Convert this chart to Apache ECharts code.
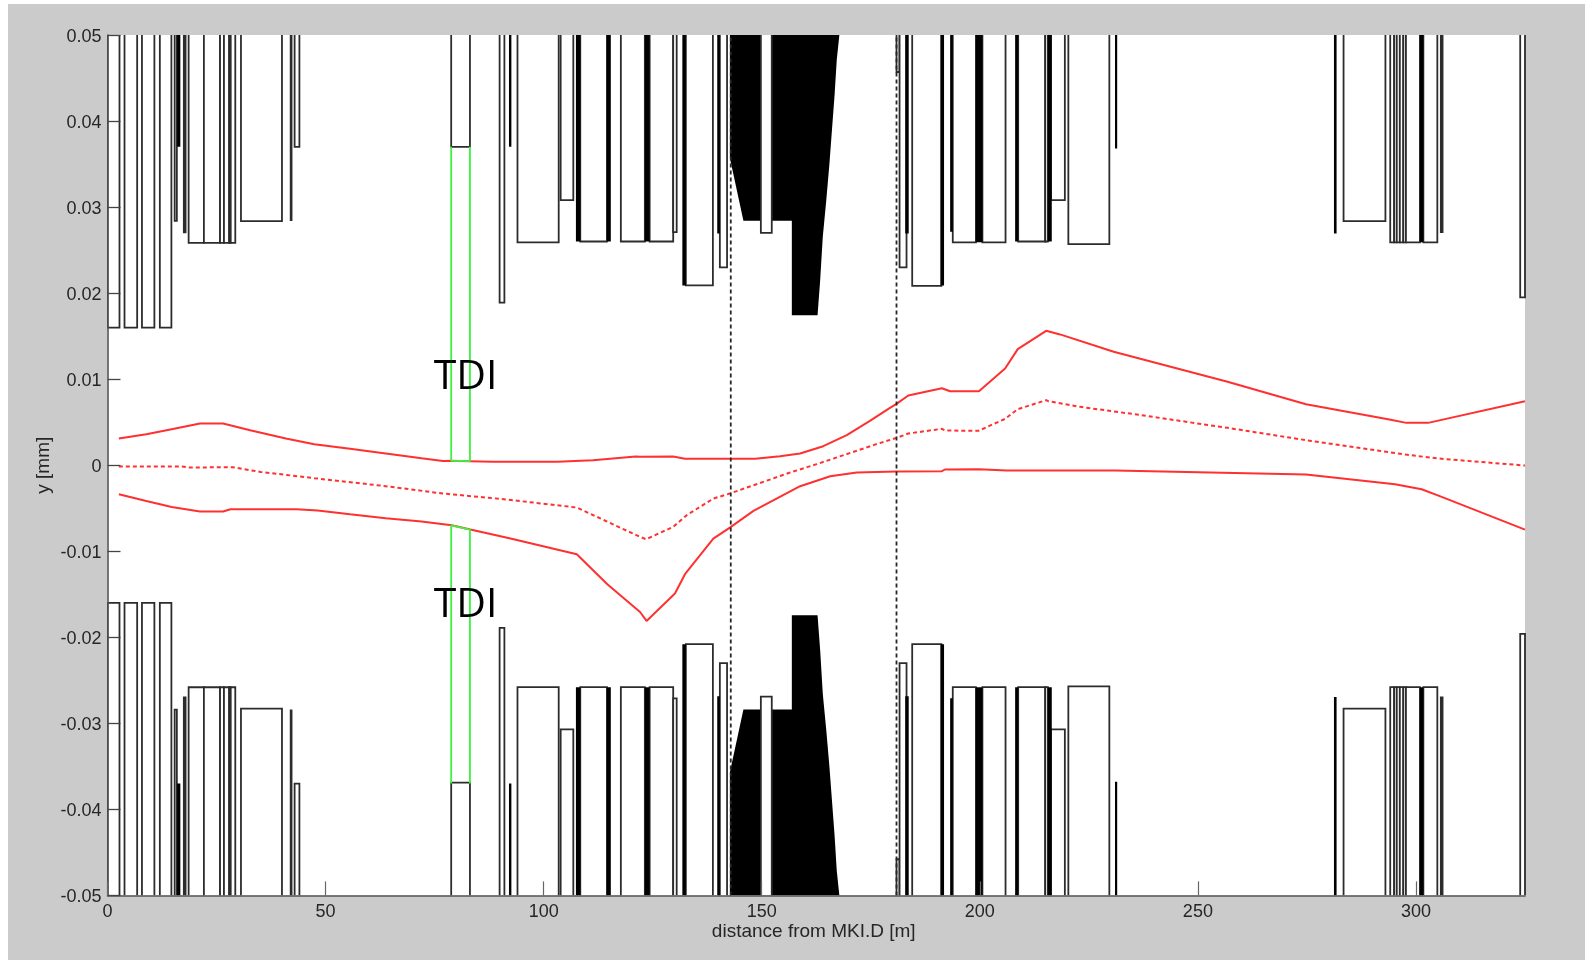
<!DOCTYPE html>
<html><head><meta charset="utf-8">
<style>
html,body{margin:0;padding:0;background:#fff;width:1585px;height:960px;overflow:hidden}
#bg{position:absolute;left:8px;top:4px;right:0;bottom:0;background:#cbcbcb}
#main{position:absolute;left:0;top:0;width:1585px;height:960px}
</style>
<script src="https://cdn.jsdelivr.net/npm/echarts@6/dist/echarts.min.js"></script>
</head><body><div id="bg"></div><div id="main"></div>
<script>
// [start m, end m, upper aperture, lower aperture]
const openElements = [
 [0,2.75,.016,-.016],[3.9,6.8,.016,-.016],[7.9,10.75,.016,-.016],[12,14.65,.016,-.016],
 [15.4,15.9,.0284,-.0284],[17.5,17.9,.02706,-.027],
 [18.6,22.1,.02585,-.02581],[22.1,25.8,.02585,-.02581],[25.8,26.7,.02585,-.02581],[26.7,27.9,.02585,-.02581],[27.9,28.25,.02585,-.02581],[28.25,29.3,.02585,-.02581],
 [30.6,40,.02837,-.0283],[42,42.2,.0285,-.0285],[42.9,44,.037,-.037],
 [78.8,83.1,.037,-.0369],[89.9,91,.0189,-.0189],
 [94,103.45,.0259,-.0258],[103.9,106.8,.0308,-.0307],[108.4,114.5,.026,-.0258],
 [117.7,123.2,.026,-.0258],[124.3,129.7,.026,-.0258],[129.7,130.5,.0271,-.0271],
 [132.6,138.8,.0209,-.0208],[140.4,142.05,.023,-.023],[149.8,152.3,.027,-.0269],
 [180.9,181.6,.0457,-.0458],[181.6,183.2,.023,-.023],[184.5,191.2,.02085,-.0208],
 [193.8,199.1,.0259,-.0258],[200.6,205.9,.0259,-.0258],[208.8,215,.026,-.0258],[215,215.6,.026,-.0258],
 [216.3,219.5,.0308,-.0307],[220.3,229.7,.0257,-.0257],
 [283.4,293,.02837,-.0283],
 [294.1,295,.0259,-.0258],[295,295.6,.0259,-.0258],[295.6,296.3,.0259,-.0258],[296.3,297.1,.0259,-.0258],[297.1,297.7,.0259,-.0258],[297.7,300.9,.0259,-.0258],[301.7,304.9,.0259,-.0258],
 [305.7,306.1,.0271,-.027],[323.9,325,.0195,-.0196]
];
const solidElements = [
 [15.95,16.7,.037,-.037],[92.05,92.6,.037,-.037],[107.4,108.4,.026,-.0258],[114.5,115.4,.026,-.0258],
 [123.2,124.3,.026,-.0258],[131.8,132.6,.0209,-.0208],[139.8,140.4,.02694,-.02686],
 [182.9,183.7,.02694,-.02686],[191,191.8,.0209,-.0208],[193.2,193.8,.02713,-.0271],
 [199.1,200.6,.0259,-.0258],[208.1,208.8,.026,-.0258],[215.6,216.5,.026,-.0258],
 [231,231.5,.0368,-.0368],[281.2,281.8,.02694,-.02694],[300.9,301.7,.0259,-.0258]
];
// outline of the dense black region (upper side; the lower side mirrors it)
const denseProfile = [
 [142.7,.05],[142.7,.0357],[145.8,.0284],[156.9,.0284],[156.9,.01744],[162.8,.01744],
 [163.4,.0215],[164,.02655],[164.8,.0308],[165.5,.0349],[166.1,.03895],[166.7,.043],[167.2,.0471],[167.8,.05]
];
const beamUpper = [
 [2.6,.0031],[8.9,.0036],[14.7,.00419],[21.2,.00485],[26.5,.00485],[32.7,.00407],[40.9,.0031],[47.4,.00244],
 [55.6,.0019],[63.8,.00136],[72,.00081],[76.9,.0005],[78.9,.00052],[83,.00047],[88.4,.00039],[103.1,.00039],
 [111.3,.00058],[121.1,.00101],[122.1,.00097],[129.7,.001],[132.4,.00074],[148.5,.00074],[154.2,.00105],
 [158.8,.00136],[164.1,.00221],[169.5,.00349],[174.8,.00516],[179.4,.00667],[180.9,.00713],[183.6,.0081],
 [191.3,.00895],[193.2,.0086],[199.8,.0086],[205.8,.01124],[208.7,.01349],[215.2,.01562],[218.4,.0152],
 [230.7,.01318],[256.8,.00969],[274.8,.00709],[293.6,.00535],[297.8,.00492],[302.8,.00492],[325,.00744]
];
const beamCentre = [
 [2.6,-.00016],[17.1,-.00016],[18.8,-.00027],[28.6,-.00023],[35.1,-.00078],[47.4,-.00151],[63.8,-.00244],
 [76.9,-.00329],[90.8,-.00395],[107.6,-.00492],[122.1,-.00833],[123.5,-.0086],[129.7,-.00717],[132.8,-.00581],
 [138.9,-.00388],[142.7,-.00329],[156.5,-.00085],[162.6,.00012],[175.6,.00233],[180.9,.00318],[183.6,.00368],
 [191.3,.00423],[192,.00403],[199.7,.004],[205.8,.00539],[208.7,.00651],[215.2,.00756],[215.7,.00744],
 [223,.00678],[236,.00589],[256.8,.00434],[274.8,.00291],[297.6,.00124],[305.1,.00078],[325,-.00004]
];
const beamLower = [
 [2.6,-.00337],[8.9,-.00415],[14.7,-.00485],[21.2,-.00539],[26.5,-.00539],[28.2,-.00512],[43.3,-.00512],[48.2,-.00527],
 [55.6,-.0057],[63.8,-.00616],[72,-.00655],[78.9,-.00698],[83.2,-.00748],[92.4,-.00853],[107.6,-.01035],[114.6,-.01384],
 [122.1,-.01706],[123.6,-.0181],[130.1,-.01492],[132.4,-.01267],[138.9,-.00853],[142.7,-.00725],[148.1,-.00531],
 [158.8,-.00244],[165.7,-.00128],[171.8,-.00085],[180.9,-.00074],[191.3,-.0007],[192,-.0005],[199.7,-.00047],
 [206.2,-.00062],[231,-.00062],[274.8,-.00108],[295.2,-.00221],[301.3,-.00279],[305.9,-.00368],[325,-.00748]
];
const tdiUpperFrame = [[78.8,.037],[78.8,.00052],[83.1,.00047],[83.1,.037]];
const tdiLowerFrame = [[78.8,-.037],[78.8,-.00698],[83.1,-.00748],[83.1,-.037]];
const kickerMarks = [142.9,180.9];
const annotations = [[82.1,.0102,'TDI'],[82.1,-.01625,'TDI']];
const xTicks = [0,50,100,150,200,250,300];

const INK='#2c2c2c', FONT='"Liberation Sans",Arial,sans-serif', TXT='#262626';
const chart = echarts.init(document.getElementById('main'), null, {renderer:'canvas'});

function elementSeries(rows, solid, z){
  return {type:'custom', coordinateSystem:'cartesian2d', silent:true, clip:true, z, animation:false,
    encode:{x:[0,1],y:[2,3]}, data:rows,
    renderItem(p,api){
      const a=api.value(0),b=api.value(1),t=api.value(2),u=api.value(3);
      const c=(x,y)=>api.coord([x,y]);
      const up=[c(a,.05),c(a,t),c(b,t),c(b,.05)], lo=[c(a,-.05),c(a,u),c(b,u),c(b,-.05)];
      const part=pts=>solid
        ? [{type:'polygon',shape:{points:pts},style:{fill:'#000'}}]
        : [{type:'polygon',shape:{points:pts},style:{fill:'#fff'}},
           {type:'polyline',shape:{points:pts},style:{fill:null,stroke:INK,lineWidth:1.8}}];
      return {type:'group',children:part(up).concat(part(lo))};
    }};
}
function line(data,color,width,dash,z){
  return {type:'line',data,showSymbol:false,symbol:'none',silent:true,animation:false,z,clip:true,
    lineStyle:{color,width,type:dash||'solid'}};
}
const series=[
 {type:'custom',coordinateSystem:'cartesian2d',silent:true,clip:true,z:2,animation:false,
  encode:{x:0,y:1},data:denseProfile,
  renderItem(p,api){
    if(p.dataIndex!==0) return null;
    const top=denseProfile.map(d=>api.coord(d)), bot=denseProfile.map(d=>api.coord([d[0],-d[1]]));
    return {type:'group',children:[top,bot].map(points=>({type:'polygon',shape:{points},style:{fill:'#000'}}))};
  }},
 elementSeries(openElements,false,3),
 elementSeries(solidElements,true,4),
 line(beamUpper,'#ff3030',2,null,5),
 line(beamCentre,'#ff3030',2,[4,3],5),
 line(beamLower,'#ff3030',2,null,5),
 line(tdiUpperFrame,'#3cf23c',1.8,null,6),
 line(tdiLowerFrame,'#3cf23c',1.8,null,6),
 ...kickerMarks.map(x=>line([[x,-.05],[x,.05]],'#262626',1.8,[4,3],7)),
 {type:'custom',coordinateSystem:'cartesian2d',silent:true,clip:false,z:8,animation:false,
  encode:{x:0,y:1},data:annotations.map(a=>[a[0],a[1]]),
  renderItem(p,api){
    const pt=api.coord([api.value(0),api.value(1)]);
    return {type:'text',x:pt[0],y:pt[1],style:{text:annotations[p.dataIndex][2],fill:'#000',
      font:'41px "Open Sans",sans-serif',textAlign:'center',textVerticalAlign:'middle'}};
  }}
];
chart.setOption({
  backgroundColor:'transparent', animation:false,
  grid:{left:107.5,top:35,width:1417.5,height:860.4,show:true,backgroundColor:'#fff',borderWidth:0,containLabel:false},
  xAxis:{type:'value',z:10,min:0,max:325,name:'distance from MKI.D [m]',nameLocation:'middle',nameGap:27,nameMoveOverlap:false,
    nameTextStyle:{fontFamily:FONT,fontSize:19,color:TXT,padding:[0,5,0,0]},
    splitLine:{show:false},
    axisLine:{show:true,onZero:false,lineStyle:{color:'#555',width:1.6}},
    axisTick:{show:true,inside:true,length:14,lineStyle:{color:'#666',width:1.2},customValues:xTicks},
    axisLabel:{fontFamily:FONT,fontSize:18,color:TXT,margin:8,customValues:xTicks}},
  yAxis:{type:'value',z:10,min:-.05,max:.05,interval:.01,name:'y [mm]',nameLocation:'middle',nameGap:54,nameMoveOverlap:false,
    nameTextStyle:{fontFamily:FONT,fontSize:19,color:TXT},
    splitLine:{show:false},
    axisLine:{show:true,onZero:false,lineStyle:{color:'#555',width:1.6}},
    axisTick:{show:true,inside:true,length:13,lineStyle:{color:'#444',width:1.3}},
    axisLabel:{margin:5,formatter:v=>'{a|'+(+v.toFixed(2))+'}',
      rich:{a:{fontFamily:FONT,fontSize:18,color:TXT,padding:[4,1,0,0]}}}},
  series
});
</script></body></html>
